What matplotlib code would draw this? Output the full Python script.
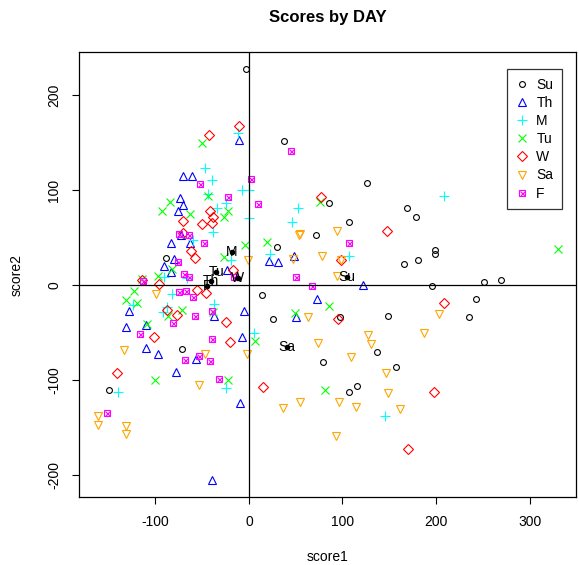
import matplotlib
matplotlib.use("Agg")
import matplotlib.pyplot as plt
import numpy as np
from matplotlib.legend_handler import HandlerTuple

plt.rcParams['font.family'] = ['Liberation Sans', 'DejaVu Sans']
plt.rcParams['axes.unicode_minus'] = False

# day groups (score1, score2)
su_x = [-3, 37, -89, 14, 26, -72, -150, 126, 86, 169, 179, 107, 72, 199, 199, 166, 181,
        251, 269, 196, 97, 149, 243, 235, 137, 79, 157, 107, 116, 30]
su_y = [227, 152, 28, -10, -36, -67, -110, 107, 86, 81, 72, 66, 53, 37, 33, 22, 26,
        3, 5, -1, -34, -33, -15, -34, -70, -81, -86, -113, -106, 40]

th_x = [-11, -71, -61, -74, -70, -76, -83, -73, -63, -80, -91, -83, 21, 31, 48, -23,
        -128, -37, -5, -131, -110, -7, 50, -110, -97, -57, -78, -10, -40, 73, 122]
th_y = [153, 115, 115, 92, 84, 78, 44, 53, 44, 27, 20, 14, 25, 24, 31, 16,
        -27, -33, -27, -44, -42, -55, -34, -66, -72, -78, -91, -124, -205, -15, 0]

m_x = [-12, -47, -39, -7, 0, -44, -34, -25, 52, 46, 22, -19, -38, 0, -60, -66, -91,
       -124, -82, -88, -92, -37, 5, -25, -140, 209, 107, 145]
m_y = [160, 123, 111, 100, 100, 96, 81, 86, 81, 66, 33, 26, 56, 71, 47, 7, 8,
       -21, -9, -23, -28, -20, -50, -108, -112, 94, 31, -138]

tu_x = [-50, -44, -84, -93, -63, -22, -27, -4, 19, -82, -97, -114, -27, -123, -131,
        -120, -72, -86, -109, 7, 49, -100, -22, 76, 330, 86, 81, -38]
tu_y = [150, 94, 87, 78, 75, 78, 72, 42, 45, 17, 10, 6, 30, -6, -16,
        -19, -26, -32, -41, -59, -29, -100, -100, 87, 38, -22, -110, -28]

w_x = [-11, -43, -42, -38, -71, -50, -39, -70, -62, -58, -17, -114, -96, -55, -46,
       -88, -77, -25, -102, -20, -141, 15, 77, 148, 98, 95, 208, 198, 170]
w_y = [167, 158, 78, 72, 67, 64, 65, 55, 36, 29, 16, 5, 1, -5, -8,
       -26, -31, -39, -55, -60, -93, -107, 93, 57, 26, -36, -19, -112, -173]

sa_x = [53, 47, -1, -99, 63, -134, -47, -2, -53, 36, 55, -161, -161, -131, -131, 94,
        55, 78, 98, 94, 203, 127, 130, 187, 74, 109, 146, 149, 96, 114, 161, 93]
sa_y = [53, 27, 26, -9, -34, -68, -72, -72, -105, -129, -123, -138, -147, -148, -157, 57,
        54, 31, 26, 10, -30, -52, -62, -50, -61, -76, -92, -114, -123, -128, -130, -159]

f_x = [45, -52, 2, -22, 10, 50, -75, -64, -48, -76, -69, -64, -113, -16, -75, -67, -60,
       -58, -39, -81, -116, -40, -68, -53, -42, -32, -152, 107, 67]
f_y = [141, 106, 112, 93, 85, 9, 54, 53, 44, 24, 12, 8, 4, 9, -7, -6, -13,
       -32, -27, -40, -51, -57, -79, -75, -80, -99, -135, 44, -1]

# group centres (labelled black dots)
cen_lab = ["Su", "Th", "M", "Tu", "W", "Sa", "F"]
cen_x = [105, -41, -18, -35, -12, 41, -45]
cen_y = [8, 4, 35, 14, 7, -65, -1]

days = ["Su", "Th", "M", "Tu", "W", "Sa", "F"]
xs = [su_x, th_x, m_x, tu_x, w_x, sa_x, f_x]
ys = [su_y, th_y, m_y, tu_y, w_y, sa_y, f_y]
cols = ["black", "blue", "cyan", "#00ff00", "red", "orange", "magenta"]
marks = ["o", "^", "+", "x", "D", "v", "s"]
sizes = [4.2, 6.0, 6.5, 6.0, 4.6, 6.0, 4.6]

fig = plt.figure(figsize=(5.79, 5.65), dpi=100)
ax = fig.add_axes([0.137, 0.1204, 0.858, 0.787])

handles = []
for d, x, y, c, mk, s in zip(days, xs, ys, cols, marks, sizes):
    h = ax.plot(x, y, linestyle="none", marker=mk, markersize=s,
                markerfacecolor="none" if mk not in ("+", "x") else c,
                markeredgecolor=c, markeredgewidth=0.8, label=d)[0]
    if d == "F":
        h2 = ax.plot(x, y, linestyle="none", marker="x", markersize=3.6,
                     color=c, markeredgewidth=0.8)[0]
        handles.append((h, h2))
    else:
        handles.append(h)

ax.axhline(0, color="black", lw=0.9)
ax.axvline(0, color="black", lw=0.9)

ax.plot(cen_x, cen_y, "o", color="black", markersize=3)
for lab, x, y in zip(cen_lab, cen_x, cen_y):
    ax.text(x, y, lab, ha="center", va="center", fontsize=10)

ax.set_xlim(-181.3, 349.7)
ax.set_ylim(-223, 245)
ax.set_xticks([-100, 0, 100, 200, 300])
ax.set_yticks([-200, -100, 0, 100, 200])
ax.tick_params(direction="out", length=5, width=0.8, labelsize=10, pad=8)
for lbl in ax.get_yticklabels():
    lbl.set_rotation(90)
    lbl.set_va("center")
for sp in ax.spines.values():
    sp.set_linewidth(0.9)

ax.set_xlabel("score1", fontsize=10, labelpad=15)
ax.set_ylabel("score2", fontsize=10, labelpad=17)
ax.set_title("Scores by DAY", fontsize=12, fontweight="bold", pad=22)

leg = ax.legend(handles, days, loc="upper right", bbox_to_anchor=(0.971, 0.962),
                borderaxespad=0, fancybox=False, edgecolor="#333333", framealpha=1,
                fontsize=10, handlelength=1.0, handletextpad=0.5, labelspacing=0.3,
                borderpad=0.6, handler_map={tuple: HandlerTuple(ndivide=1, pad=0)})
leg.get_frame().set_linewidth(0.9)

fig.savefig("out.png", dpi=100)
